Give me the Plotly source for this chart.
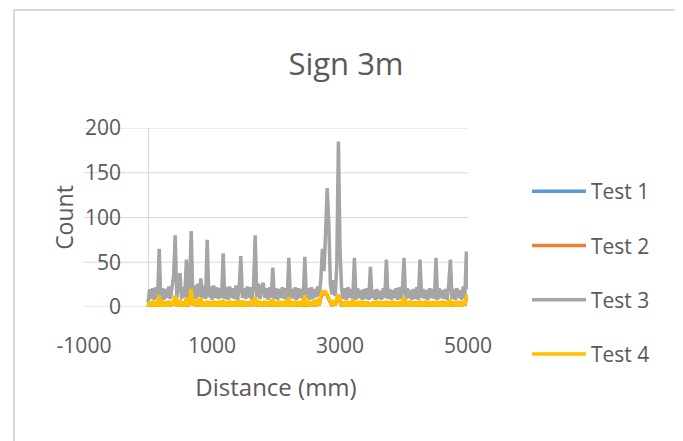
import plotly.graph_objects as go

# Distance sample positions (mm)
distance_mm = list(range(0, 5001, 25))

test3_counts = [
    5, 20, 9, 21, 8, 22, 10, 65, 9, 21,
    8, 20, 10, 23, 9, 22, 34, 80, 10, 24,
    38, 9, 22, 11, 53, 10, 25, 85, 12, 24,
    9, 26, 11, 32, 10, 24, 9, 75, 11, 23,
    8, 24, 10, 22, 9, 21, 10, 60, 9, 22,
    8, 23, 10, 21, 9, 24, 8, 22, 57, 10,
    21, 9, 23, 10, 22, 8, 24, 80, 11, 26,
    9, 22, 27, 10, 21, 8, 22, 10, 44, 9,
    21, 8, 20, 10, 22, 9, 21, 8, 55, 10,
    20, 9, 22, 8, 21, 10, 20, 9, 56, 10,
    21, 8, 22, 9, 20, 11, 23, 12, 30, 65,
    40, 83, 133, 93, 25, 14, 30, 12, 47, 185,
    65, 20, 9, 21, 8, 22, 10, 20, 9, 55,
    8, 21, 10, 19, 8, 20, 9, 21, 8, 45,
    10, 19, 8, 20, 9, 18, 8, 21, 10, 53,
    9, 20, 8, 19, 10, 21, 8, 22, 9, 20,
    55, 8, 21, 10, 19, 8, 20, 9, 22, 8,
    53, 10, 20, 9, 19, 8, 21, 10, 20, 9,
    55, 8, 21, 10, 19, 9, 20, 8, 26, 53,
    9, 20, 8, 21, 10, 19, 8, 23, 10, 62,
    20,
]

test4_counts = [
    0, 6, 1, 7, 0, 6, 1, 13, 0, 7,
    1, 6, 0, 7, 1, 6, 2, 13, 0, 6,
    7, 1, 6, 0, 10, 1, 7, 20, 2, 8,
    0, 9, 1, 10, 0, 6, 1, 7, 0, 6,
    1, 7, 0, 6, 1, 7, 0, 8, 1, 6,
    0, 7, 1, 6, 0, 7, 1, 6, 6, 0,
    7, 1, 6, 0, 7, 1, 6, 11, 1, 7,
    0, 6, 1, 7, 0, 6, 1, 7, 7, 0,
    6, 1, 7, 0, 6, 1, 7, 0, 11, 1,
    6, 0, 7, 1, 6, 0, 7, 1, 13, 1,
    7, 0, 6, 1, 8, 1, 9, 2, 12, 18,
    16, 17, 14, 10, 6, 1, 8, 2, 9, 14,
    8, 1, 6, 0, 7, 1, 6, 0, 7, 6,
    0, 6, 1, 7, 0, 6, 1, 6, 0, 5,
    1, 6, 0, 7, 1, 6, 0, 6, 1, 7,
    0, 6, 1, 7, 0, 6, 1, 6, 0, 7,
    11, 1, 6, 0, 7, 1, 6, 0, 6, 1,
    7, 0, 6, 1, 7, 0, 6, 1, 6, 0,
    7, 1, 6, 0, 7, 1, 6, 0, 6, 7,
    1, 6, 0, 7, 1, 6, 0, 7, 2, 12,
    13,
]

# Tests 1 and 2 lie underneath Tests 3 and 4 and are not visible in the reference
test1_counts = [
    0, 5, 1, 6, 0, 5, 1, 12, 0, 6,
    1, 5, 0, 6, 1, 5, 2, 12, 0, 5,
    6, 1, 5, 0, 9, 1, 6, 18, 2, 7,
    0, 8, 1, 9, 0, 5, 1, 6, 0, 5,
    1, 6, 0, 5, 1, 6, 0, 7, 1, 5,
    0, 6, 1, 5, 0, 6, 1, 5, 5, 0,
    6, 1, 5, 0, 6, 1, 5, 10, 1, 6,
    0, 5, 1, 6, 0, 5, 1, 6, 6, 0,
    5, 1, 6, 0, 5, 1, 6, 0, 10, 1,
    5, 0, 6, 1, 5, 0, 6, 1, 12, 1,
    6, 0, 5, 1, 7, 1, 8, 2, 11, 16,
    15, 16, 13, 9, 5, 1, 7, 2, 8, 13,
    7, 1, 5, 0, 6, 1, 5, 0, 6, 5,
    0, 5, 1, 6, 0, 5, 1, 5, 0, 4,
    1, 5, 0, 6, 1, 5, 0, 5, 1, 6,
    0, 5, 1, 6, 0, 5, 1, 5, 0, 6,
    10, 1, 5, 0, 6, 1, 5, 0, 5, 1,
    6, 0, 5, 1, 6, 0, 5, 1, 5, 0,
    6, 1, 5, 0, 6, 1, 5, 0, 5, 6,
    1, 5, 0, 6, 1, 5, 0, 6, 2, 11,
    12,
]

test2_counts = [
    0, 5, 1, 6, 0, 6, 1, 12, 0, 6,
    1, 6, 0, 6, 1, 6, 2, 12, 0, 6,
    6, 1, 6, 0, 9, 1, 6, 19, 2, 7,
    0, 8, 1, 9, 0, 6, 1, 6, 0, 6,
    1, 6, 0, 6, 1, 6, 0, 7, 1, 6,
    0, 6, 1, 6, 0, 6, 1, 6, 5, 0,
    6, 1, 6, 0, 6, 1, 6, 10, 1, 6,
    0, 6, 1, 6, 0, 6, 1, 6, 6, 0,
    6, 1, 6, 0, 6, 1, 6, 0, 10, 1,
    6, 0, 6, 1, 6, 0, 6, 1, 12, 1,
    6, 0, 6, 1, 7, 1, 8, 2, 11, 17,
    15, 16, 13, 9, 6, 1, 7, 2, 8, 13,
    7, 1, 6, 0, 6, 1, 6, 0, 6, 5,
    0, 6, 1, 6, 0, 6, 1, 6, 0, 5,
    1, 6, 0, 6, 1, 6, 0, 6, 1, 6,
    0, 6, 1, 6, 0, 6, 1, 6, 0, 6,
    10, 1, 6, 0, 6, 1, 6, 0, 6, 1,
    6, 0, 6, 1, 6, 0, 6, 1, 6, 0,
    6, 1, 6, 0, 6, 1, 6, 0, 6, 6,
    1, 6, 0, 6, 1, 6, 0, 6, 2, 11,
    12,
]

series_names = ["Test 1", "Test 2", "Test 3", "Test 4"]
series_values = [test1_counts, test2_counts, test3_counts, test4_counts]
series_colors = ["#5B9BD5", "#ED7D31", "#A5A5A5", "#FFC000"]

x_tick_values = [-1000, 1000, 3000, 5000]
x_tick_labels = ["-1000", "1000", "3000", "5000"]
y_tick_values = [0, 50, 100, 150, 200]

FONT = "Open Sans"
TXT = "#595959"
GRID = "#D9D9D9"

# the page body has an 8px margin; the figure is sized to fill the rest
OFF = 8
W, H = 683 - OFF, 441 - OFF
# plot area in page pixels
PL, PR, PT, PB = 84, 468, 128, 307
L, R, T, B = PL - OFF, PR - OFF, PT - OFF, PB - OFF


def px_x(page_x):
    return (page_x - PL) / (PR - PL)


def px_y(page_y):
    return (PB - page_y) / (PB - PT)


fig = go.Figure()
for name, vals, col in zip(series_names, series_values, series_colors):
    fig.add_trace(go.Scatter(
        x=distance_mm, y=vals, name=name, mode="lines",
        line=dict(color=col, width=3.5, simplify=False), legendgroup=name,
    ))

# horizontal gridlines spanning the whole plot area
for v in y_tick_values:
    fig.add_shape(type="line", xref="paper", yref="y", x0=0, x1=1, y0=v, y1=v,
                  line=dict(color=GRID, width=1), layer="below")

fig.update_layout(
    width=W, height=H,
    margin=dict(l=L, r=W - R, t=T, b=H - B, pad=0, autoexpand=False),
    paper_bgcolor="white", plot_bgcolor="white",
    font=dict(family=FONT, color=TXT),
    title=dict(text="Sign 3m", font=dict(size=31, color=TXT, family=FONT),
               x=(346 - OFF) / W, xanchor="center", xref="container",
               y=1 - (64 - OFF) / H, yanchor="middle", yref="container"),
    xaxis=dict(range=[-1000, 5000], tickvals=x_tick_values, ticktext=x_tick_labels,
               showgrid=False, showline=False, automargin=False,
               zeroline=True, zerolinecolor=GRID, zerolinewidth=1,
               ticks="", ticklabelstandoff=24,
               tickfont=dict(size=21, color=TXT),
               title=dict(text="Distance (mm)", font=dict(size=24, color=TXT), standoff=21)),
    yaxis=dict(range=[0, 200], tickvals=y_tick_values,
               anchor="free", position=1 / 6, automargin=False,
               showgrid=False, zeroline=False,
               showline=False, ticks="", ticklabelstandoff=27,
               tickfont=dict(size=21, color=TXT),
               title=dict(text="Count", font=dict(size=23, color=TXT), standoff=3)),
    legend=dict(x=px_x(527), xanchor="left", y=px_y(171), yanchor="top",
                font=dict(size=21, color=TXT), tracegroupgap=24,
                itemwidth=54, maxheight=400, bgcolor="rgba(0,0,0,0)"),
    showlegend=True,
)

# chart area border
fig.add_shape(type="rect", xref="paper", yref="paper",
              x0=px_x(14), x1=px_x(676), y0=px_y(445), y1=px_y(10),
              line=dict(color=GRID, width=2), fillcolor="rgba(0,0,0,0)", layer="below")

fig.write_html("out.html")
